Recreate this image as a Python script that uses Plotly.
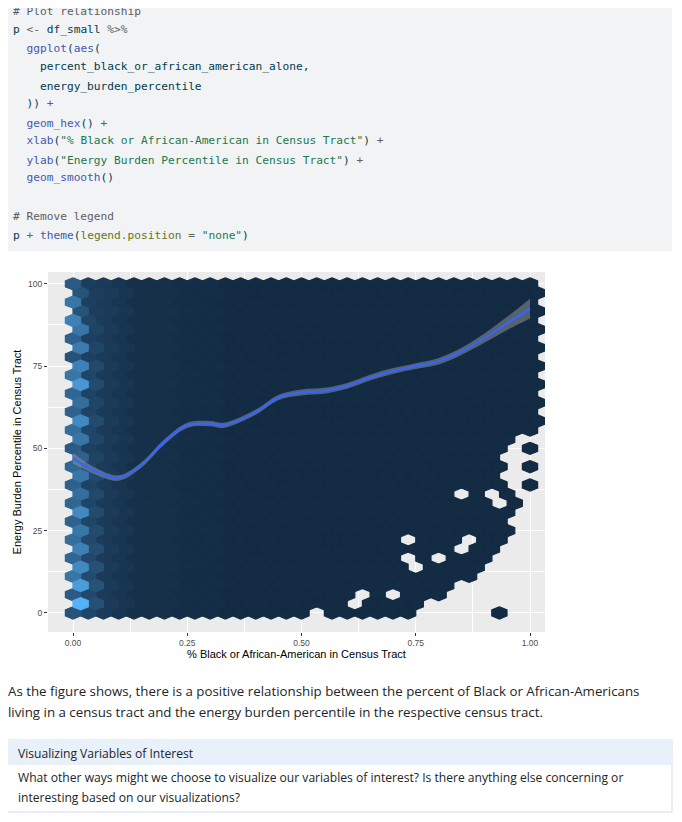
import plotly.graph_objects as go

W, H = 682, 822
OFF = 8  # page body margin
def px(x): return (x - OFF) / W
def py(y): return 1 - (y - OFF) / H

# ---------------- data ----------------
n_rows = 37
row_step = 100 / 36
col_step = 1 / 30
lead_share = [0.30, 1.00, 0.35, 0.85, 0.55, 0.70, 0.45, 0.65, 0.50, 0.55, 0.40, 0.70, 0.45,
              0.50, 0.40, 0.55, 0.45, 0.40, 0.35, 0.55, 0.50, 0.70, 0.40, 0.50, 0.45, 0.80,
              0.55, 0.65, 0.30, 0.60, 0.40, 0.55, 0.65, 0.30, 0.55, 0.30, 0.35]
second_share = [0.20, 0.28, 0.22, 0.30, 0.25, 0.28, 0.22, 0.26, 0.22, 0.24, 0.20, 0.25, 0.20,
                0.22, 0.18, 0.22, 0.20, 0.18, 0.16, 0.20, 0.20, 0.24, 0.18, 0.20, 0.18, 0.24,
                0.20, 0.22, 0.16, 0.20, 0.16, 0.18, 0.20, 0.14, 0.16, 0.14, 0.14]
third_share = 0.12
fourth_share = 0.08
fifth_share = 0.05
tail_shares = [0.035, 0.03, 0.025, 0.02, 0.015]
rest_share = 0.008
max_count = 400
row_boundary = [0.75, 0.77, 0.80, 0.84, 0.87, 0.89, 0.91, 0.92, 0.94, 0.95, 0.96, 0.97, 0.98,
                1.0, 1.0, 1.0, 1.0, 1.0, 1.0, 1.0, 1.0, 1.02, 1.0, 1.02, 1.0, 1.02, 1.0, 1.02,
                1.0, 1.02, 1.0, 1.02, 1.0, 1.02, 1.0, 1.02, 1.0]
holes = [(0.533, 0), (0.633, 2), (0.70, 2), (0.617, 1), (0.733, 8), (0.733, 6), (0.75, 5),
         (0.80, 6), (0.867, 8), (0.85, 7), (0.85, 13), (0.917, 13), (0.967, 14), (0.933, 12),
         (0.967, 16), (0.95, 17), (0.983, 17), (0.95, 15), (0.983, 15), (0.983, 19),
         (0.967, 18), (0.983, 13), (0.983, 11)]
extra_hexes = [(0.933, 0)]

smooth_x = [0.0, 0.05, 0.1, 0.15, 0.2, 0.25, 0.3, 0.33, 0.4, 0.45, 0.5, 0.55, 0.6, 0.65,
            0.7, 0.75, 0.8, 0.85, 0.9, 0.95, 1.0]
smooth_y = [47, 43, 41, 45, 52, 57, 57.5, 57, 61, 65.5, 67, 67.5, 69, 71.5, 73.5, 75, 76.5,
            79.5, 83.5, 88, 92.5]
smooth_se = [1.6, 1.0, 0.8, 0.8, 0.8, 0.8, 0.8, 0.8, 0.8, 0.8, 0.9, 0.9, 0.9, 0.9, 0.9, 0.9,
             1.0, 1.1, 1.4, 2.0, 3.0]

x_ticks = [0, 0.25, 0.5, 0.75, 1.0]
x_tick_labels = ["0.00", "0.25", "0.50", "0.75", "1.00"]
y_ticks = [0, 25, 50, 75, 100]

# ---------------- build hex cells ----------------
def is_hole(x, k):
    return any(abs(x - hx) < 0.01 and k == hk for hx, hk in holes)

cells = []
for k in range(n_rows):
    y = k * row_step
    off = 0.5 if k % 2 else 0.0
    for j in range(31):
        x = (j + off) * col_step
        if x > row_boundary[k] + 1e-6 or is_hole(x, k):
            continue
        if j == 0: s = lead_share[k]
        elif j == 1: s = second_share[k]
        elif j == 2: s = third_share
        elif j == 3: s = fourth_share
        elif j == 4: s = fifth_share
        elif j - 5 < len(tail_shares): s = tail_shares[j - 5]
        else: s = rest_share
        cells.append((x, y, s * max_count))
for x, k in extra_hexes:
    cells.append((x, k * row_step, rest_share * max_count))

lo, hi = (19, 43, 67), (86, 177, 247)
def col(t):
    return "rgb(%d,%d,%d)" % tuple(round(a + (b - a) * t) for a, b in zip(lo, hi))

w = col_step / 2
R = row_step * 2 / 3
groups = {}
for x, y, c in cells:
    t = round(min(c / max_count, 1) * 50) / 50
    xs, ys = groups.setdefault(t, ([], []))
    xs += [x, x + w, x + w, x, x - w, x - w, x, None]
    ys += [y + R, y + R / 2, y - R / 2, y - R, y - R / 2, y + R / 2, y + R, None]

fig = go.Figure()
for t, (xs, ys) in sorted(groups.items()):
    fig.add_trace(go.Scatter(x=xs, y=ys, mode="lines", fill="toself", fillcolor=col(t),
                             line=dict(width=1.2, color=col(t)), hoverinfo="skip"))

up = [a + b for a, b in zip(smooth_y, smooth_se)]
dn = [a - b for a, b in zip(smooth_y, smooth_se)]
fig.add_trace(go.Scatter(x=smooth_x, y=dn, mode="lines", line=dict(width=0, shape="spline"),
                         hoverinfo="skip"))
fig.add_trace(go.Scatter(x=smooth_x, y=up, mode="lines", line=dict(width=0, shape="spline"),
                         fill="tonexty", fillcolor="rgba(153,153,153,0.5)", hoverinfo="skip"))
fig.add_trace(go.Scatter(x=smooth_x, y=smooth_y, mode="lines",
                         line=dict(width=2.2, color="#3366FF", shape="spline")))

fig.update_layout(
    width=W, height=H, margin=dict(l=0, r=0, t=0, b=0), showlegend=False,
    paper_bgcolor="white", plot_bgcolor="#EBEBEB",
    font=dict(family="Liberation Sans, Arial", color="#4D4D4D"),
    xaxis=dict(domain=[px(48), px(545)], range=[-0.0547, 1.0328], tickvals=x_ticks,
               ticktext=x_tick_labels, gridcolor="white", gridwidth=1.1, zeroline=False,
               ticks="outside", ticklen=3, tickcolor="#333", tickfont=dict(size=8.5),
               minor=dict(dtick=0.125, gridcolor="white", gridwidth=0.5, showgrid=True),
               title=dict(text="% Black or African-American in Census Tract", standoff=0,
                          font=dict(size=11, color="black"))),
    yaxis=dict(domain=[py(632), py(272)], range=[-5.8, 103.6], tickvals=y_ticks,
               gridcolor="white", gridwidth=1.1, zeroline=False,
               ticks="outside", ticklen=3, tickcolor="#333", tickfont=dict(size=8.5),
               minor=dict(dtick=12.5, gridcolor="white", gridwidth=0.5, showgrid=True),
               title=dict(text="Energy Burden Percentile in Census Tract", standoff=4,
                          font=dict(size=11, color="black"))),
)

# ---------------- page decorations ----------------
shapes = [
    dict(type="rect", xref="paper", yref="paper", x0=px(5), x1=px(672), y0=py(251), y1=1,
         fillcolor="#F1F3F5", line=dict(width=0), layer="below"),
    dict(type="rect", xref="paper", yref="paper", x0=px(4), x1=px(672), y0=py(812), y1=py(740),
         fillcolor="white", line=dict(width=1, color="#CFDDF2")),
    dict(type="rect", xref="paper", yref="paper", x0=px(4), x1=px(672), y0=py(765), y1=py(740),
         fillcolor="#E8F0FA", line=dict(width=0)),
    dict(type="rect", xref="paper", yref="paper", x0=px(4), x1=px(8), y0=py(812), y1=py(740),
         fillcolor="#2780E3", line=dict(width=0)),
]
fig.update_layout(shapes=shapes)

G, B, S, D = "#5E5E5E", "#4758AB", "#20794D", "#003B4F"
def sp(t, c): return '<span style="color:%s">%s</span>' % (c, t)
code_lines = [
    (12, sp("# Plot relationship", G)),
    (30, sp("p ", D) + sp("&lt;-", G) + sp(" df_small ", D) + sp("%&gt;%", G)),
    (48, "  " + sp("ggplot", B) + sp("(", D) + sp("aes", B) + sp("(", D)),
    (67, "    " + sp("percent_black_or_african_american_alone,", D)),
    (86, "    " + sp("energy_burden_percentile", D)),
    (104, "  " + sp("))", D) + sp(" +", G)),
    (123, "  " + sp("geom_hex", B) + sp("()", D) + sp(" +", G)),
    (141, "  " + sp("xlab", B) + sp("(", D) + sp('"% Black or African-American in Census Tract"', S) + sp(")", D) + sp(" +", G)),
    (160, "  " + sp("ylab", B) + sp("(", D) + sp('"Energy Burden Percentile in Census Tract"', S) + sp(")", D) + sp(" +", G)),
    (178, "  " + sp("geom_smooth", B) + sp("()", D)),
    (216, sp("# Remove legend", G)),
    (235, sp("p ", D) + sp("+", G) + " " + sp("theme", B) + sp("(", D) + sp("legend.position", "#657422") + sp(" = ", G) + sp('"none"', S) + sp(")", D)),
]
ann = []
for y, t in code_lines:
    ann.append(dict(xref="paper", yref="paper", x=px(11), y=py(y), text=t.replace("  ", "&nbsp;&nbsp;"),
                    showarrow=False, xanchor="left", yanchor="middle",
                    font=dict(family="DejaVu Sans Mono", size=11.2, color=D)))
body = "Open Sans, Noto Sans"
ann += [
    dict(x=px(6), y=py(691), text="As the figure shows, there is a positive relationship between the percent of Black or African-Americans",
         font=dict(family=body, size=13.3, color="#212529")),
    dict(x=px(6), y=py(712), text="living in a census tract and the energy burden percentile in the respective census tract.",
         font=dict(family=body, size=13.3, color="#212529")),
    dict(x=px(16), y=py(753), text="Visualizing Variables of Interest",
         font=dict(family=body, size=12.1, color="#212529")),
    dict(x=px(16), y=py(777), text="What other ways might we choose to visualize our variables of interest? Is there anything else concerning or",
         font=dict(family=body, size=12.1, color="#212529")),
    dict(x=px(16), y=py(797), text="interesting based on our visualizations?",
         font=dict(family=body, size=12.1, color="#212529")),
]
for a in ann[len(code_lines):]:
    a.update(xref="paper", yref="paper", showarrow=False, xanchor="left", yanchor="middle")
fig.update_layout(annotations=ann)

fig.write_html("out.html")
